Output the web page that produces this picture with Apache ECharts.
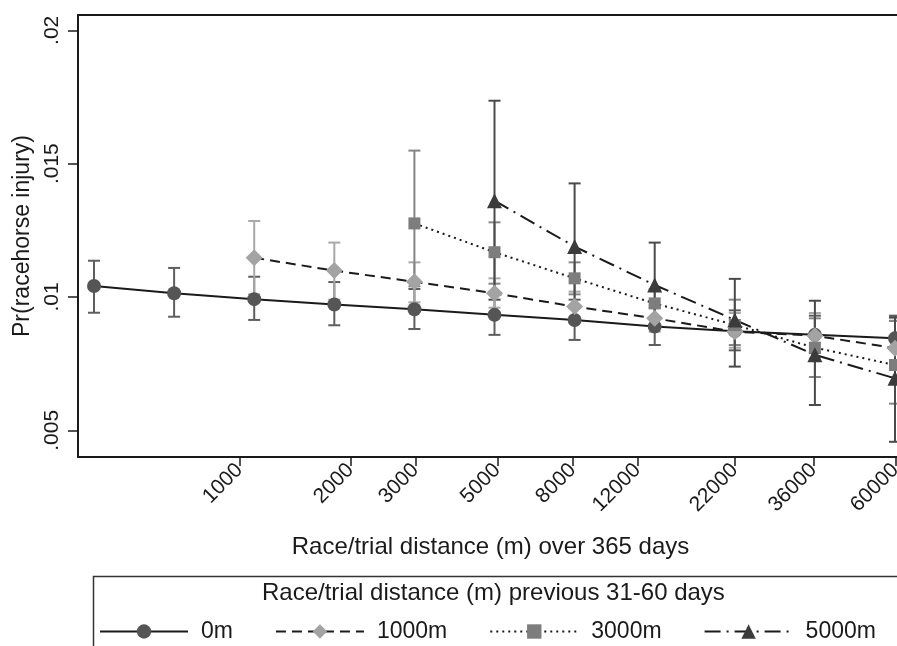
<!DOCTYPE html>
<html>
<head>
<meta charset="utf-8">
<script src="https://cdn.jsdelivr.net/npm/echarts@6/dist/echarts.min.js"></script>
<style>
  html, body { margin: 0; padding: 0; background: #fff; }
  #chart { width: 897px; height: 646px; }
</style>
</head>
<body>
<div id="chart"></div>
<script>
// x positions are ln(distance) as used by the model
const lnDistance = [6, 6.5, 7, 7.5, 8, 8.5, 9, 9.5, 10, 10.5, 11]
const xTickLabels = ['1000', '2000', '3000', '5000', '8000', '12000', '22000', '36000', '60000']
const yTickValues = [0.005, 0.01, 0.015, 0.02]
const seriesNames = ['0m', '1000m', '3000m', '5000m']

const est0 = [0.01041, 0.01014, 0.00992, 0.00972, 0.00954, 0.00933, 0.00914, 0.00889, 0.00872, 0.00858, 0.00845]
const lo0 = [0.00941, 0.00926, 0.00914, 0.00894, 0.0088, 0.00858, 0.00839, 0.0082, 0.0080, 0.0079, 0.0076]
const hi0 = [0.01136, 0.01109, 0.01076, 0.01056, 0.0103, 0.0101, 0.0099, 0.0096, 0.0095, 0.0093, 0.0093]

const est1000 = [null, null, 0.01147, 0.01099, 0.01057, 0.01014, 0.00964, 0.0092, 0.0087, 0.00855, 0.00808]
const lo1000 = [null, null, 0.0101, 0.0099, 0.0098, 0.0096, 0.0091, 0.0087, 0.0081, 0.0077, 0.0070]
const hi1000 = [null, null, 0.01285, 0.01204, 0.0113, 0.0107, 0.0102, 0.0097, 0.0094, 0.0094, 0.0092]

const est3000 = [null, null, null, null, 0.01276, 0.01168, 0.0107, 0.00976, 0.00895, 0.0081, 0.00745]
const lo3000 = [null, null, null, null, 0.0104, 0.0105, 0.0101, 0.0092, 0.0082, 0.0070, 0.0060]
const hi3000 = [null, null, null, null, 0.01549, 0.0128, 0.0113, 0.0103, 0.0099, 0.0092, 0.0091]

const est5000 = [null, null, null, null, null, 0.01361, 0.01189, 0.01045, 0.00914, 0.00783, 0.00695]
const lo5000 = [null, null, null, null, null, 0.0099, 0.0096, 0.0089, 0.00739, 0.00595, 0.00457]
const hi5000 = [null, null, null, null, null, 0.01736, 0.01426, 0.01204, 0.01068, 0.00986, 0.00924]

const font = 'Liberation Sans, Arial, Helvetica, sans-serif'
const ink = '#1a1a1a'
const xTickValues = xTickLabels.map(d => Math.log(Number(d)))

function points(est) {
  return lnDistance.map((x, i) => [x, est[i]]).filter(p => p[1] != null)
}

function errorBars(lo, hi, color) {
  return {
    type: 'custom',
    z: 1,
    silent: true,
    data: lnDistance.map((x, i) => [x, lo[i], hi[i]]).filter(p => p[1] != null),
    renderItem: function (params, api) {
      const x = api.value(0)
      const a = api.coord([x, api.value(1)])
      const b = api.coord([x, api.value(2)])
      const w = 6
      const style = { stroke: color, lineWidth: 2 }
      return {
        type: 'group',
        children: [
          { type: 'line', shape: { x1: a[0], y1: a[1], x2: b[0], y2: b[1] }, style: style },
          { type: 'line', shape: { x1: a[0] - w, y1: a[1], x2: a[0] + w, y2: a[1] }, style: style },
          { type: 'line', shape: { x1: b[0] - w, y1: b[1], x2: b[0] + w, y2: b[1] }, style: style }
        ]
      }
    }
  }
}

function lineSeries(name, est, symbol, size, color, dash) {
  return {
    name: name,
    type: 'line',
    z: 3,
    data: points(est),
    symbol: symbol,
    symbolSize: size,
    showSymbol: true,
    itemStyle: { color: color, borderWidth: 0 },
    lineStyle: { color: ink, width: 2, type: dash }
  }
}

const chart = echarts.init(document.getElementById('chart'))
chart.setOption({
  backgroundColor: '#fff',
  animation: false,
  textStyle: { fontFamily: font },
  grid: { left: 78, top: 15, right: -6, bottom: 189, outerBoundsMode: 'none', containLabel: false },
  xAxis: [{
    type: 'value',
    min: 5.9,
    max: 11.05,
    name: 'Race/trial distance (m) over 365 days',
    nameLocation: 'middle',
    nameGap: 78,
    nameTextStyle: { fontSize: 24, color: ink, fontFamily: font },
    splitLine: { show: false },
    axisLine: { lineStyle: { color: ink, width: 2 } },
    axisTick: { show: true, length: 9, lineStyle: { color: ink, width: 1.5 }, customValues: xTickValues },
    axisLabel: {
      customValues: xTickValues,
      rotate: 45,
      fontSize: 21,
      color: ink,
      margin: 10,
      formatter: function (v) {
        const i = xTickValues.findIndex(t => Math.abs(t - v) < 1e-6)
        return i >= 0 ? xTickLabels[i] : ''
      }
    }
  }, {
    // top frame line only
    type: 'value',
    position: 'top',
    min: 5.9,
    max: 11.05,
    axisLine: { show: true, lineStyle: { color: ink, width: 2 } },
    axisTick: { show: false },
    axisLabel: { show: false },
    splitLine: { show: false }
  }],
  yAxis: {
    type: 'value',
    min: 0.004,
    max: 0.020575,
    name: 'Pr(racehorse injury)',
    nameLocation: 'middle',
    nameGap: 44,
    nameTextStyle: { fontSize: 23, color: ink, fontFamily: font },
    splitLine: { show: false },
    axisLine: { show: true, lineStyle: { color: ink, width: 2 } },
    axisTick: { show: true, length: 10, lineStyle: { color: ink, width: 1.5 }, customValues: yTickValues },
    axisLabel: {
      customValues: yTickValues,
      rotate: 90,
      fontSize: 21,
      color: ink,
      margin: 15,
      formatter: function (v) {
        return String(Number(v.toFixed(3))).replace(/^0/, '')
      }
    }
  },
  legend: {
    left: 94,
    top: 615,
    itemWidth: 88,
    itemHeight: 18,
    itemGap: 42,
    textStyle: { fontSize: 23, color: ink, fontFamily: font, padding: [0, 0, 0, 8] },
    data: seriesNames
  },
  graphic: [
    {
      type: 'rect',
      left: 91, top: 574,
      shape: { width: 820, height: 100 },
      style: { fill: 'none', stroke: '#333', lineWidth: 1.5 },
      z: 0
    },
    {
      type: 'text',
      left: 262, top: 581,
      style: { text: 'Race/trial distance (m) previous 31-60 days', fontSize: 24, fill: ink, fontFamily: font }
    }
  ],
  series: [
    errorBars(lo0, hi0, '#5e5e5e'),
    errorBars(lo1000, hi1000, '#a8a8a8'),
    errorBars(lo3000, hi3000, '#858585'),
    errorBars(lo5000, hi5000, '#4a4a4a'),
    lineSeries(seriesNames[0], est0, 'circle', 14, '#555555', 'solid'),
    lineSeries(seriesNames[1], est1000, 'diamond', 17, '#a3a3a3', [10, 6]),
    lineSeries(seriesNames[2], est3000, 'rect', 12, '#7d7d7d', [2, 4]),
    lineSeries(seriesNames[3], est5000, 'triangle', 15, '#3b3b3b', [16, 6, 2, 6])
  ]
})
</script>
</body>
</html>
